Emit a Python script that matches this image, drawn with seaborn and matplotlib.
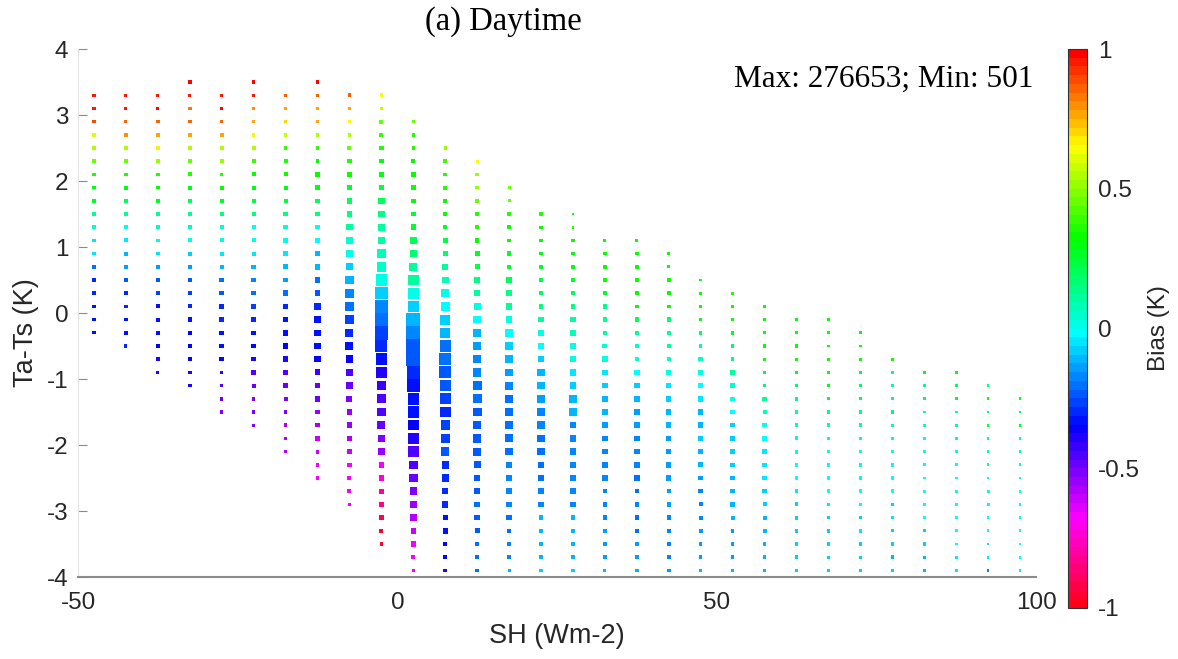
import colorsys
import numpy as np
import pandas as pd
import matplotlib
matplotlib.use("Agg")
import matplotlib.pyplot as plt
from matplotlib.colors import ListedColormap, Normalize
import seaborn as sns

# ---------------- data ----------------
SH_CENTERS = [-47.5, -42.5, -37.5, -32.5, -27.5, -22.5, -17.5, -12.5, -7.5, -2.5,
              2.5, 7.5, 12.5, 17.5, 22.5, 27.5, 32.5, 37.5, 42.5, 47.5,
              52.5, 57.5, 62.5, 67.5, 72.5, 77.5, 82.5, 87.5, 92.5, 97.5]
# Ta-Ts of the top cell of every column (cells are 0.2 K apart going down)
TOP_DT = [3.3, 3.3, 3.3, 3.5, 3.3, 3.5, 3.3, 3.5, 3.3, 3.3,
          2.9, 2.5, 2.3, 1.9, 1.5, 1.5, 1.1, 1.1, 0.9, 0.5,
          0.3, 0.1, -0.1, -0.1, -0.3, -0.7, -0.9, -0.9, -1.1, -1.3]
DT_STEP = 0.2

# bias (K) per column, top to bottom
BIAS = [
    [0.95, 0.95, 0.90, 0.60, 0.55, 0.45, 0.35, 0.30, 0.25, 0.12, 0.05, -0.05, -0.05, -0.20, -0.30, -0.30, -0.33, -0.33, -0.33],
    [0.95, 0.95, 0.85, 0.80, 0.55, 0.45, 0.35, 0.30, 0.20, 0.10, 0.00, -0.05, -0.12, -0.15, -0.25, -0.30, -0.30, -0.33, -0.33, -0.30],
    [0.95, 1.00, 0.87, 0.78, 0.68, 0.50, 0.35, 0.32, 0.25, 0.12, 0.08, 0.00, -0.05, -0.15, -0.25, -0.28, -0.33, -0.33, -0.33, -0.35, -0.38, -0.40],
    [1.00, 0.95, 0.83, 0.85, 0.75, 0.55, 0.45, 0.35, 0.30, 0.20, 0.12, 0.08, 0.00, -0.07, -0.15, -0.25, -0.28, -0.30, -0.33, -0.35, -0.35, -0.35, -0.40, -0.40],
    [0.95, 0.97, 0.87, 0.75, 0.55, 0.50, 0.35, 0.33, 0.25, 0.15, 0.05, 0.00, -0.05, -0.12, -0.20, -0.22, -0.30, -0.30, -0.33, -0.33, -0.35, -0.42, -0.45, -0.50, -0.52],
    [1.00, 0.95, 0.80, 0.78, 0.68, 0.55, 0.40, 0.33, 0.30, 0.22, 0.15, 0.03, 0.00, -0.05, -0.12, -0.18, -0.20, -0.28, -0.30, -0.33, -0.35, -0.40, -0.45, -0.50, -0.52, -0.53, -0.52],
    [0.87, 0.75, 0.70, 0.58, 0.40, 0.35, 0.33, 0.30, 0.22, 0.15, 0.05, 0.00, -0.05, -0.12, -0.15, -0.20, -0.30, -0.33, -0.33, -0.35, -0.38, -0.45, -0.47, -0.52, -0.53, -0.58, -0.58, -0.58],
    [1.00, 0.85, 0.77, 0.75, 0.55, 0.38, 0.33, 0.33, 0.30, 0.20, 0.15, 0.03, -0.03, -0.10, -0.12, -0.20, -0.22, -0.30, -0.33, -0.33, -0.33, -0.37, -0.42, -0.47, -0.50, -0.55, -0.58, -0.60, -0.62, -0.67, -0.67],
    [0.85, 0.75, 0.65, 0.55, 0.45, 0.35, 0.33, 0.25, 0.20, 0.15, 0.10, 0.05, 0.00, -0.08, -0.11, -0.16, -0.21, -0.27, -0.31, -0.33, -0.37, -0.45, -0.50, -0.53, -0.55, -0.55, -0.58, -0.62, -0.67, -0.67, -0.67, -0.67],
    [0.65, 0.58, 0.45, 0.40, 0.35, 0.30, 0.30, 0.22, 0.20, 0.15, 0.12, 0.10, 0.08, 0.05, 0.00, -0.07, -0.17, -0.21, -0.27, -0.31, -0.33, -0.40, -0.42, -0.44, -0.46, -0.48, -0.52, -0.54, -0.67, -0.73, -0.79, -0.83, -0.89, -0.96, -0.94],
    [0.45, 0.35, 0.35, 0.33, 0.33, 0.33, 0.33, 0.28, 0.25, 0.20, 0.17, 0.12, 0.10, 0.02, -0.08, -0.12, -0.17, -0.23, -0.25, -0.29, -0.33, -0.33, -0.34, -0.37, -0.40, -0.44, -0.46, -0.50, -0.52, -0.55, -0.57, -0.62, -0.66, -0.66, -0.70],
    [0.50, 0.40, 0.35, 0.35, 0.33, 0.33, 0.27, 0.22, 0.17, 0.12, 0.08, 0.00, -0.03, -0.08, -0.12, -0.19, -0.21, -0.25, -0.25, -0.28, -0.29, -0.27, -0.26, -0.25, -0.29, -0.31, -0.31, -0.31, -0.33, -0.33, -0.37, -0.37, -0.40],
    [0.65, 0.50, 0.50, 0.45, 0.35, 0.35, 0.33, 0.27, 0.22, 0.15, 0.10, 0.02, -0.03, -0.10, -0.13, -0.16, -0.18, -0.20, -0.21, -0.23, -0.23, -0.24, -0.24, -0.25, -0.22, -0.22, -0.20, -0.22, -0.22, -0.20, -0.21, -0.19],
    [0.45, 0.45, 0.35, 0.33, 0.33, 0.28, 0.25, 0.20, 0.15, 0.10, 0.00, -0.03, -0.07, -0.11, -0.15, -0.18, -0.20, -0.21, -0.21, -0.20, -0.19, -0.17, -0.18, -0.18, -0.17, -0.19, -0.19, -0.17, -0.17, -0.12],
    [0.35, 0.33, 0.30, 0.30, 0.25, 0.22, 0.20, 0.15, 0.10, 0.00, -0.03, -0.07, -0.11, -0.12, -0.15, -0.17, -0.18, -0.19, -0.19, -0.19, -0.19, -0.17, -0.17, -0.12, -0.12, -0.12, -0.10, -0.09],
    [0.33, 0.35, 0.33, 0.30, 0.30, 0.28, 0.20, 0.15, 0.12, 0.08, 0.00, 0.00, -0.05, -0.08, -0.12, -0.12, -0.16, -0.17, -0.17, -0.17, -0.17, -0.17, -0.17, -0.12, -0.12, -0.11, -0.10, -0.08],
    [0.33, 0.33, 0.33, 0.33, 0.25, 0.15, 0.12, 0.10, 0.05, 0.00, -0.05, -0.09, -0.12, -0.12, -0.13, -0.16, -0.17, -0.18, -0.17, -0.17, -0.16, -0.17, -0.15, -0.14, -0.15, -0.12],
    [0.33, 0.33, 0.33, 0.33, 0.33, 0.33, 0.20, 0.12, 0.05, 0.00, -0.03, -0.07, -0.11, -0.15, -0.15, -0.17, -0.16, -0.18, -0.19, -0.19, -0.18, -0.19, -0.19, -0.15, -0.15, -0.11],
    [0.33, 0.33, 0.33, 0.33, 0.33, 0.17, 0.12, 0.10, 0.05, 0.00, -0.05, -0.08, -0.11, -0.12, -0.13, -0.13, -0.13, -0.13, -0.15, -0.15, -0.17, -0.17, -0.17, -0.17, -0.15],
    [0.33, 0.33, 0.33, 0.25, 0.17, 0.12, 0.05, 0.00, -0.01, -0.06, -0.10, -0.12, -0.09, -0.11, -0.12, -0.15, -0.16, -0.16, -0.16, -0.15, -0.15, -0.13, -0.10],
    [0.35, 0.33, 0.30, 0.27, 0.20, 0.15, 0.10, 0.05, 0.00, -0.03, -0.07, -0.07, -0.09, -0.09, -0.10, -0.11, -0.12, -0.12, -0.15, -0.15, -0.13, -0.12],
    [0.33, 0.33, 0.30, 0.30, 0.28, 0.22, 0.18, 0.12, 0.07, 0.02, -0.02, -0.05, -0.05, -0.06, -0.07, -0.09, -0.10, -0.11, -0.12, -0.11, -0.10],
    [0.30, 0.30, 0.30, 0.30, 0.27, 0.20, 0.15, 0.12, 0.08, 0.04, 0.00, -0.01, -0.03, -0.05, -0.07, -0.08, -0.08, -0.08, -0.09, -0.08],
    [0.33, 0.33, 0.33, 0.33, 0.30, 0.30, 0.22, 0.15, 0.10, 0.05, 0.00, 0.00, -0.01, -0.03, -0.05, -0.07, -0.08, -0.07, -0.07, -0.08],
    [0.33, 0.33, 0.30, 0.22, 0.20, 0.20, 0.15, 0.10, 0.06, 0.02, 0.00, 0.00, -0.01, -0.03, -0.07, -0.06, -0.07, -0.07, -0.07],
    [0.33, 0.15, 0.12, 0.15, 0.17, 0.10, 0.05, 0.02, 0.00, -0.01, -0.02, -0.07, -0.05, -0.07, -0.07, -0.12, -0.08],
    [0.25, 0.15, 0.20, 0.10, 0.05, 0.02, 0.00, 0.00, 0.00, -0.03, -0.03, -0.03, -0.07, -0.08, -0.11, -0.10],
    [0.30, 0.17, 0.25, 0.12, 0.10, 0.08, 0.05, 0.00, 0.00, 0.00, -0.01, -0.02, -0.03, -0.03, -0.06, -0.05],
    [0.15, 0.30, 0.22, 0.22, 0.15, 0.10, 0.10, 0.05, 0.00, 0.00, -0.02, -0.03, -0.05, -0.06, -0.18],
    [0.30, 0.22, 0.25, 0.12, 0.10, 0.05, 0.02, 0.00, 0.00, 0.00, 0.00, 0.00, -0.03, -0.05],
]

# number of samples per cell (thousands), top to bottom
COUNT_K = [
    [4, 4, 4, 8, 8, 8, 8, 8, 8, 8, 8, 8, 8, 13, 8, 8, 8, 4, 4],
    [4, 4, 4, 8, 8, 8, 8, 13, 13, 13, 13, 13, 13, 13, 8, 8, 8, 8, 8, 4],
    [4, 4, 8, 8, 8, 8, 8, 8, 8, 8, 8, 8, 8, 13, 13, 13, 13, 13, 8, 8, 8, 4],
    [8, 4, 8, 8, 8, 8, 8, 13, 13, 13, 13, 13, 13, 13, 13, 13, 13, 13, 19, 19, 13, 13, 8, 8],
    [4, 4, 8, 13, 13, 13, 8, 13, 13, 13, 13, 13, 13, 13, 19, 19, 19, 19, 19, 19, 19, 8, 8, 8, 4],
    [4, 4, 8, 8, 8, 13, 13, 13, 13, 13, 13, 13, 13, 13, 19, 19, 19, 19, 19, 19, 19, 19, 19, 13, 8, 8, 4],
    [4, 4, 8, 8, 8, 13, 13, 13, 13, 19, 19, 26, 26, 26, 26, 33, 33, 33, 33, 33, 33, 26, 19, 13, 8, 8, 8, 8],
    [8, 4, 8, 8, 8, 13, 13, 19, 19, 19, 19, 19, 26, 33, 41, 41, 41, 50, 50, 50, 50, 50, 41, 33, 33, 26, 19, 19, 13, 8, 8],
    [8, 8, 8, 8, 13, 19, 19, 33, 33, 33, 50, 50, 60, 60, 94, 106, 106, 106, 82, 82, 70, 70, 50, 41, 33, 33, 33, 19, 19, 13, 13, 8],
    [8, 8, 13, 13, 19, 19, 19, 33, 50, 50, 60, 70, 94, 120, 182, 217, 256, 262, 256, 199, 182, 149, 120, 106, 94, 82, 70, 50, 33, 33, 26, 26, 19, 13, 4],
    [8, 8, 8, 13, 19, 26, 19, 19, 33, 50, 60, 82, 149, 165, 182, 265, 276.653, 270, 262, 236, 217, 182, 182, 149, 149, 149, 94, 94, 70, 50, 50, 33, 33, 13, 4],
    [4, 8, 8, 13, 13, 8, 19, 26, 26, 41, 60, 82, 106, 134, 149, 182, 199, 199, 182, 165, 165, 120, 120, 94, 70, 70, 50, 50, 33, 33, 19, 13, 8],
    [4, 8, 8, 8, 8, 13, 19, 26, 26, 33, 41, 60, 70, 82, 94, 94, 94, 106, 106, 106, 94, 94, 82, 60, 50, 41, 33, 33, 26, 19, 13, 8],
    [4, 4, 8, 8, 8, 19, 19, 33, 33, 50, 50, 70, 70, 70, 70, 82, 82, 82, 82, 82, 70, 50, 50, 33, 33, 33, 19, 13, 8, 4],
    [4, 4, 8, 8, 8, 8, 13, 19, 33, 33, 50, 50, 70, 70, 70, 70, 70, 70, 70, 50, 50, 33, 33, 19, 19, 8, 8, 8],
    [0.8, 0.9, 8, 8, 8, 8, 8, 19, 33, 33, 33, 50, 50, 50, 70, 70, 50, 50, 50, 50, 50, 33, 33, 19, 19, 8, 8, 8],
    [4, 8, 8, 8, 13, 19, 19, 19, 26, 33, 33, 33, 33, 33, 33, 33, 33, 33, 33, 19, 19, 19, 8, 8, 8, 4],
    [4, 8, 8, 8, 8, 8, 19, 19, 19, 19, 33, 33, 33, 33, 33, 33, 33, 33, 33, 19, 19, 19, 19, 8, 8, 8],
    [0.9, 4, 8, 8, 8, 19, 19, 19, 19, 33, 33, 33, 33, 33, 33, 33, 33, 33, 19, 19, 19, 19, 8, 8, 8],
    [0.7, 0.9, 4, 8, 8, 8, 19, 19, 19, 33, 33, 33, 33, 33, 26, 19, 19, 13, 13, 13, 8, 8, 8],
    [0.8, 1.0, 8, 8, 8, 8, 19, 19, 19, 19, 19, 19, 19, 19, 19, 19, 19, 13, 8, 8, 8, 8],
    [4, 0.9, 1.1, 4, 4, 8, 8, 19, 13, 19, 19, 19, 19, 19, 19, 13, 13, 13, 8, 8, 4],
    [4, 4, 4, 4, 8, 8, 8, 8, 13, 13, 13, 13, 13, 13, 13, 13, 8, 8, 8, 8],
    [0.7, 0.9, 1.0, 1.1, 1.2, 8, 4, 8, 8, 8, 8, 8, 8, 8, 8, 8, 8, 4, 4, 4],
    [0.8, 1.0, 4, 4, 4, 4, 4, 8, 8, 8, 8, 8, 8, 8, 8, 8, 4, 4, 4],
    [0.6, 0.8, 1.0, 1.1, 4, 4, 4, 4, 8, 8, 8, 8, 8, 4, 4, 8, 1.2],
    [0.6, 0.8, 1.0, 0.9, 1.2, 1.0, 1.5, 1.3, 1.5, 4, 1.8, 4, 4, 4, 4, 1.2],
    [0.7, 0.9, 1.0, 1.2, 1.1, 1.3, 1.4, 1.5, 1.5, 1.6, 1.4, 1.5, 1.6, 1.4, 1.3, 1.2],
    [0.6, 0.8, 0.9, 1.0, 1.1, 1.2, 1.3, 1.3, 1.4, 1.4, 1.3, 1.2, 1.2, 1.1, 0.9],
    [0.501, 0.7, 0.8, 0.9, 1.0, 1.1, 1.2, 1.2, 1.2, 1.1, 1.1, 1.0, 1.0, 0.9],
]

X_TICKS = [-50, 0, 50, 100]
Y_TICKS = [-4, -3, -2, -1, 0, 1, 2, 3, 4]
CB_TICKS = [-1, -0.5, 0, 0.5, 1]
CB_TICKLABELS = ["-1", "-0.5", "0", "0.5", "1"]
TITLE = "(a) Daytime"
ANNOT = "Max: 276653; Min: 501"

# ---------------- build the long table ----------------
rows = []
for sh, top, bcol, ccol in zip(SH_CENTERS, TOP_DT, BIAS, COUNT_K):
    assert len(bcol) == len(ccol), (sh, len(bcol), len(ccol))
    for i, (b, c) in enumerate(zip(bcol, ccol)):
        rows.append({"SH": sh, "dT": round(top - DT_STEP * i, 2), "bias": b, "count": c})
df = pd.DataFrame(rows)

# MATLAB-like flipud(hsv(64))
hues = np.arange(64) / 64.0
cols = [colorsys.hsv_to_rgb(h, 1, 1) for h in hues][::-1]
cmap = ListedColormap(cols)
norm = Normalize(-1, 1)

sns.set_style("white")
plt.rcParams["font.family"] = ["Liberation Sans", "DejaVu Sans"]

W, H = 1178, 659
fig = plt.figure(figsize=(W / 100, H / 100), dpi=100)
ax = fig.add_axes([78 / W, 1 - 577 / H, (1036 - 78) / W, (577 - 49) / H])

def px2s(px):
    return (px * 72 / 100) ** 2

sns.scatterplot(data=df, x="SH", y="dT", hue="bias", size="count",
                palette=cmap, hue_norm=norm,
                sizes=(px2s(2.7), px2s(14.0)), size_norm=(0.501, 276.653),
                marker="s", linewidth=0, legend=False, ax=ax)

ax.set_xlim(-50, 100)
ax.set_ylim(-4, 4)
ax.set_xticks(X_TICKS)
ax.set_yticks(Y_TICKS)
ax.set_xticklabels([str(v) for v in X_TICKS])
ax.set_yticklabels([str(v) for v in Y_TICKS])
ax.tick_params(axis="y", direction="in", length=6.5, width=0.8, color="#8a8a8a",
               labelsize=17.5, pad=7, labelcolor="#262626", left=True)
ax.tick_params(axis="x", length=0, labelsize=17.5, pad=11, labelcolor="#262626")
for s in ("top", "right"):
    ax.spines[s].set_visible(False)
ax.spines["left"].set_color("#e4e4e4")
ax.spines["left"].set_linewidth(0.8)
ax.spines["bottom"].set_color("#8c8c8c")
ax.spines["bottom"].set_linewidth(1.5)
ax.set_xlabel("SH (Wm-2)", fontsize=19.5, color="#262626", labelpad=6)
ax.set_ylabel("Ta-Ts (K)", fontsize=19.5, color="#262626")
ax.yaxis.label.set_verticalalignment("center")
ax.yaxis.set_label_coords((26 - 78) / 958, (577 - 333) / 528)

ax.text(0.997, 0.943, ANNOT, transform=ax.transAxes, ha="right", va="center",
        family="Liberation Serif", fontsize=22.5, color="black")
fig.text(503 / W, 1 - 22 / H, TITLE, ha="center", va="center",
         family="Liberation Serif", fontsize=23.5, color="black")

cax = fig.add_axes([1068 / W, 1 - 608 / H, 19 / W, (608 - 49) / H])
sm = matplotlib.cm.ScalarMappable(norm=norm, cmap=cmap)
cb = fig.colorbar(sm, cax=cax, ticks=CB_TICKS)
cb.ax.set_yticklabels(CB_TICKLABELS)
cb.ax.tick_params(direction="in", length=3, width=0.8, color="#333333",
                  labelsize=17.5, pad=8, labelcolor="#262626")
cb.outline.set_edgecolor("#333333")
cb.outline.set_linewidth(0.8)
cb.set_label("Bias (K)", fontsize=17.5, color="#262626", labelpad=6)

fig.savefig("out.png", dpi=100, facecolor="white")
